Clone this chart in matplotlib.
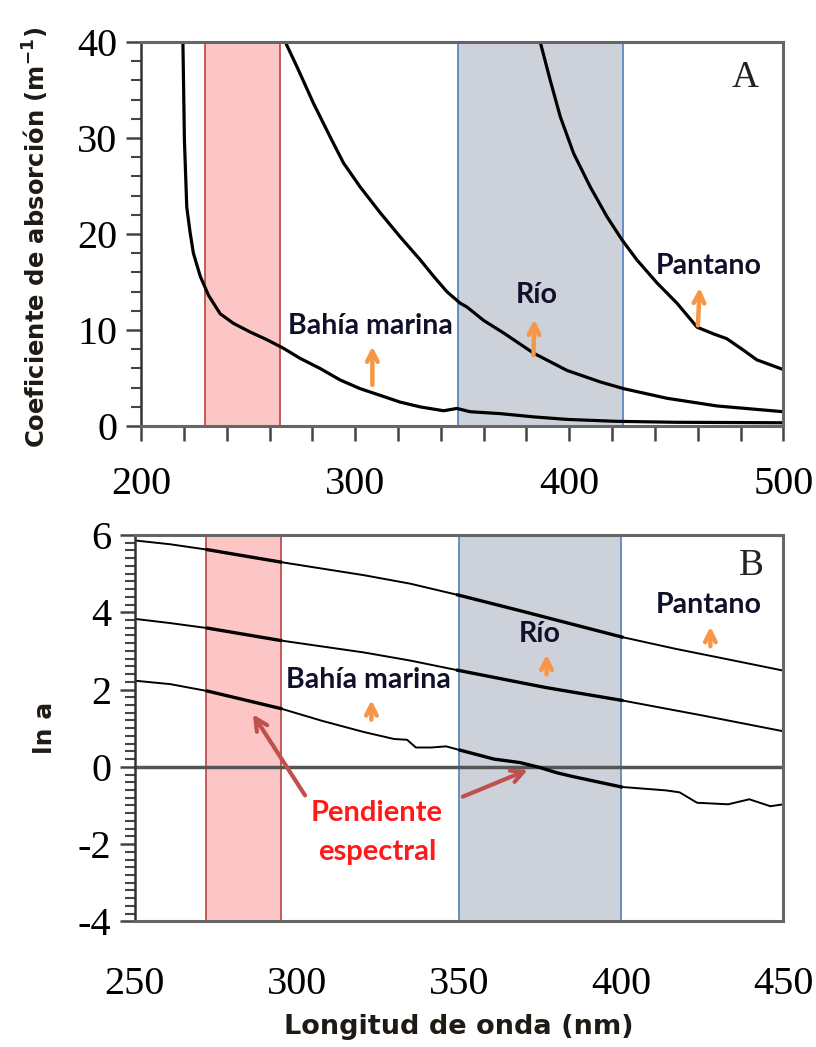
import matplotlib.pyplot as plt
import numpy as np

# ---- Panel A: coeficiente de absorcion ----
bahia_A_x = [219.5, 220.2, 221.3, 222.9, 224.4, 227.6, 231.5, 236.9, 243.1, 250.9, 258.7, 266.5, 274.3, 283.6,
             293, 302.3, 311.7, 321, 330.4, 341.3, 347.5, 353.7, 367.8, 383, 398.9, 422, 450, 500]
bahia_A_y = [40, 29.8, 22.8, 20.1, 18.0, 15.6, 13.6, 11.7, 10.7, 9.8, 9.0, 8.1, 7.05, 6.0,
             4.8, 3.9, 3.2, 2.5, 2.0, 1.6, 1.84, 1.5, 1.3, 0.97, 0.7, 0.5, 0.4, 0.35]

rio_A_x = [267.3, 272.8, 280.5, 288.3, 294.5, 302.3, 311.7, 321, 330.4, 336.6, 342.8, 349, 352.2, 360, 369.3,
           383.3, 398.9, 414.5, 425.4, 445.6, 469, 500]
rio_A_y = [40, 37.4, 33.6, 30.1, 27.4, 24.9, 22.2, 19.7, 17.3, 15.6, 14.0, 12.8, 12.4, 11.0, 9.7,
           7.6, 5.8, 4.6, 3.9, 2.9, 2.1, 1.5]

pant_A_x = [386.4, 391.1, 395.8, 402, 409.8, 417.6, 424.6, 431.6, 441, 450.3, 459.7, 467.4, 473.6, 481.4, 487.6, 498.6, 500]
pant_A_y = [40, 36, 32.2, 28.4, 24.9, 21.8, 19.4, 17.3, 14.9, 12.8, 10.3, 9.6, 9.1, 7.9, 6.9, 6.0, 5.9]

bandas_A = [(230, 265), (348, 425)]

# ---- Panel B: ln a ----
pant_B_x = [250, 261, 272.5, 295, 320.7, 335, 349.6, 368.9, 400.2, 417, 433, 450]
pant_B_y = [5.86, 5.76, 5.62, 5.30, 4.96, 4.74, 4.45, 4.04, 3.36, 3.05, 2.78, 2.49]

rio_B_x = [250, 261, 272.5, 295, 320.7, 335, 349.6, 376.9, 400.2, 425, 450]
rio_B_y = [3.83, 3.72, 3.59, 3.27, 2.96, 2.75, 2.50, 2.05, 1.72, 1.33, 0.92]

bahia_B_x = [250, 261, 272.5, 295, 307.8, 320.7, 330, 334, 336.7, 341.5, 346, 350.4, 360.8, 368.8, 375, 380,
             385, 400, 413.8, 418, 423.4, 433, 439.5, 446, 450]
bahia_B_y = [2.23, 2.14, 1.96, 1.51, 1.19, 0.90, 0.72, 0.70, 0.50, 0.50, 0.53, 0.43, 0.20, 0.11, -0.02, -0.15,
             -0.25, -0.52, -0.61, -0.66, -0.93, -0.97, -0.84, -1.02, -0.97]

bandas_B = [(272, 295), (350, 400)]

rojo_fill = "#fcc6c6"
rojo_borde = "#c0504d"
gris_fill = "#cdd1da"
azul_borde = "#4f81bd"
naranja = "#f79646"
txt_col = "#10102a"
eje_col = "#1f1a14"

plt.rcParams["font.family"] = ["Liberation Serif", "DejaVu Serif"]

fig = plt.figure(figsize=(8.16, 10.47), dpi=100)
axA = fig.add_axes([0.173, 0.593, 0.787, 0.367])
axB = fig.add_axes([0.165, 0.12, 0.795, 0.369])

def bandas(ax, b):
    ax.axvspan(b[0][0], b[0][1], facecolor=rojo_fill, edgecolor=rojo_borde, lw=1.3, zorder=0)
    ax.axvspan(b[1][0], b[1][1], facecolor=gris_fill, edgecolor=azul_borde, lw=1.2, zorder=0)

def estilo(ax):
    for s in ["top", "right", "bottom"]:
        ax.spines[s].set_color("#666666")
        ax.spines[s].set_linewidth(2.2)
    ax.spines["left"].set_color("#333333")
    ax.spines["left"].set_linewidth(1.8)

lab = dict(family=["Lato", "DejaVu Sans"], fontweight="bold", fontsize=20.5, color=txt_col)
arr_or = dict(arrowstyle="->", color=naranja, lw=3.2, mutation_scale=19)

# ---------- A ----------
bandas(axA, bandas_A)
axA.plot(bahia_A_x, bahia_A_y, color="black", lw=2.3)
axA.plot(rio_A_x, rio_A_y, color="black", lw=2.3)
axA.plot(pant_A_x, pant_A_y, color="black", lw=2.3)
axA.set_xlim(200, 500)
axA.set_ylim(0, 40)
estilo(axA)
axA.set_xticks(np.arange(200, 501, 100))
axA.set_xticks(np.arange(200, 501, 20), minor=True)
axA.set_yticks(np.arange(0, 41, 10))
axA.set_yticks(np.arange(0, 41, 2), minor=True)
axA.tick_params(axis="x", which="both", direction="out", length=11, width=1.8, color="#444444",
                labelsize=29, pad=18)
axA.tick_params(axis="y", which="major", direction="out", length=11, width=1.8, color="#444444",
                labelsize=29, pad=6)
axA.tick_params(axis="y", which="minor", direction="out", length=7, width=1.5, color="#444444")
axA.set_ylabel("Coeficiente de absorción (m$^{\\mathbf{-1}}$)", family="DejaVu Sans", fontweight="bold",
               fontsize=17.5, color=eje_col)
axA.yaxis.set_label_coords(-0.14, 0.49)
axA.text(482, 36.3, "A", fontsize=27, ha="center", va="center", color="#222222")

axA.text(307, 10.4, "Bahía marina", ha="center", va="center", **lab)
axA.annotate("", xy=(308, 8.6), xytext=(308, 4.0), arrowprops=arr_or)
axA.text(384.6, 13.6, "Río", ha="center", va="center", **lab)
axA.annotate("", xy=(383.8, 11.4), xytext=(383.2, 7.1), arrowprops=arr_or)
axA.text(465, 16.7, "Pantano", ha="center", va="center", **lab)
axA.annotate("", xy=(461, 14.7), xytext=(460, 10.2), arrowprops=arr_or)

# ---------- B ----------
bandas(axB, bandas_B)
axB.axhline(0, color="#555555", lw=2.5, zorder=1)
for xs, ys in [(pant_B_x, pant_B_y), (rio_B_x, rio_B_y), (bahia_B_x, bahia_B_y)]:
    axB.plot(xs, ys, color="black", lw=1.4, zorder=2)
    xs_a = np.array(xs)
    ys_a = np.array(ys)
    for b0, b1 in bandas_B:
        m = (xs_a >= b0 - 1) & (xs_a <= b1 + 1)
        axB.plot(xs_a[m], ys_a[m], color="black", lw=2.4, zorder=2)
axB.set_xlim(250, 450)
axB.set_ylim(-4, 6)
estilo(axB)
axB.set_xticks(np.arange(250, 451, 50))
axB.set_yticks(np.arange(-4, 7, 2))
axB.set_yticks(np.arange(-4, 6.01, 0.2), minor=True)
axB.set_yticklabels(["-4", "-2", "0", "2", "4", "6"])
axB.tick_params(axis="x", which="both", length=0, labelsize=29, pad=32)
axB.tick_params(axis="y", which="major", direction="out", length=11, width=1.8, color="#444444",
                labelsize=29, pad=6)
axB.tick_params(axis="y", which="minor", direction="out", length=7, width=1.5, color="#444444")
axB.set_xlabel("Longitud de onda (nm)", family="DejaVu Sans", fontweight="bold", fontsize=19.5,
               color=eje_col, labelpad=8)
axB.set_ylabel("ln a", family="DejaVu Sans", fontweight="bold", fontsize=18, color=eje_col)
axB.yaxis.set_label_coords(-0.12, 0.5)
axB.text(440, 5.2, "B", fontsize=27, ha="center", va="center", color="#222222")

axB.text(322, 2.25, "Bahía marina", ha="center", va="center", **lab)
axB.annotate("", xy=(323, 1.8), xytext=(323, 1.15), arrowprops=arr_or)
axB.text(375, 3.45, "Río", ha="center", va="center", **lab)
axB.annotate("", xy=(377, 2.98), xytext=(377, 2.32), arrowprops=arr_or)
axB.text(427, 4.2, "Pantano", ha="center", va="center", **lab)
axB.annotate("", xy=(427.5, 3.7), xytext=(427.5, 3.05), arrowprops=arr_or)

axB.text(324.7, -1.2, "Pendiente", ha="center", va="center", family=["Lato", "DejaVu Sans"],
         fontweight="bold", fontsize=21, color="#ff1a1a")
axB.text(324.7, -2.2, "espectral", ha="center", va="center", family=["Lato", "DejaVu Sans"],
         fontweight="bold", fontsize=21, color="#ff1a1a")
arr_r = dict(arrowstyle="->", color=rojo_borde, lw=3, mutation_scale=22)
axB.annotate("", xy=(286, 1.42), xytext=(303, -0.8), arrowprops=arr_r)
axB.annotate("", xy=(372, -0.05), xytext=(350.4, -0.8), arrowprops=arr_r)

fig.savefig("out.png", dpi=100)
